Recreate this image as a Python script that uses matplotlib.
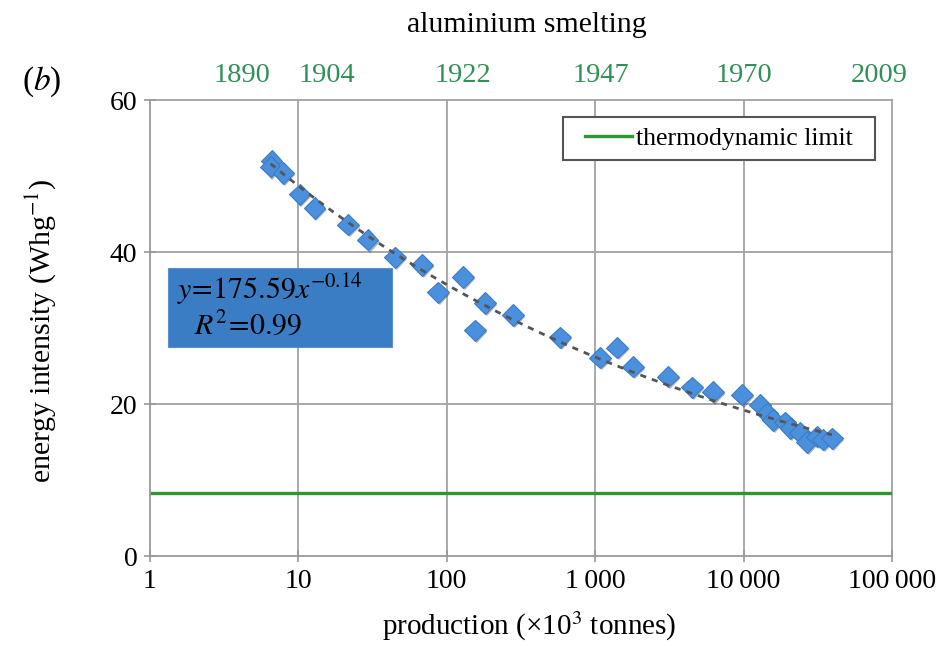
import numpy as np
import matplotlib
matplotlib.use("Agg")
import matplotlib.pyplot as plt
import matplotlib.patheffects as pe
from matplotlib.patches import Rectangle

plt.rcParams['font.family'] = ['Liberation Serif', 'DejaVu Serif']
plt.rcParams['mathtext.fontset'] = 'stix'

# production (x10^3 tonnes) and energy intensity (Wh/g)
production = [6.6, 6.5, 7.9, 10.2, 12.9, 21.6, 29.4, 44.8, 68.1, 87.2, 128.5,
              180.9, 279, 155, 579, 1077, 1403, 1798, 3096, 4490, 6220, 9750,
              12900, 14400, 15800, 19000, 20600, 24000, 26700, 31200, 34300, 39400]
intensity = [52.0, 51.2, 50.4, 47.6, 45.8, 43.6, 41.6, 39.3, 38.3, 34.7, 36.7,
             33.3, 31.7, 29.7, 28.8, 26.1, 27.4, 24.9, 23.6, 22.2, 21.6, 21.2,
             19.9, 18.8, 17.9, 17.6, 16.8, 16.2, 15.0, 15.7, 15.3, 15.5]

thermo_limit = 8.3

x_ticks = [1, 10, 100, 1000, 10000, 100000]
x_ticklabels = ['1', '10', '100', '1\u2009000', '10\u2009000', '100\u2009000']
y_ticks = [0, 20, 40, 60]

years = ['1890', '1904', '1922', '1947', '1970', '2009']
year_production = [4.2, 15.6, 128, 1090, 10000, 81600]

fig = plt.figure(figsize=(9.45, 6.46), dpi=100)
ax = fig.add_axes([0.1587, 0.1393, 0.7852, 0.7059])
ax.set_xscale('log')
ax.set_xlim(1, 100000)
ax.set_ylim(0, 60)

grid_c = '#a3a3a3'
for xv in x_ticks[1:]:
    ax.axvline(xv, color=grid_c, lw=1.3, zorder=0, clip_on=False)
for yv in y_ticks[1:]:
    ax.axhline(yv, color=grid_c, lw=1.3, zorder=0, clip_on=False)

for s in ['top', 'right']:
    ax.spines[s].set_visible(False)
for s in ['left', 'bottom']:
    ax.spines[s].set_color('#9a9a9a')
    ax.spines[s].set_linewidth(1.3)

ax.set_xticks(x_ticks)
ax.set_xticklabels(x_ticklabels)
ax.xaxis.set_minor_locator(matplotlib.ticker.NullLocator())
ax.set_yticks(y_ticks)
ax.tick_params(axis='both', direction='inout', length=8, width=1.2,
               color='#9a9a9a', labelsize=20, pad=5)

# thermodynamic limit
ax.axhline(thermo_limit, color='#2e9630', lw=2.4, zorder=2,
           label='thermodynamic limit')

# power-law trend fitted to the data
lx = np.log10(production)
b, a = np.polyfit(lx, np.log10(intensity), 1)
xs = np.logspace(np.log10(min(production)), np.log10(max(production)), 200)
ax.plot(xs, 10 ** a * xs ** b, color='#555555', lw=2.0, dashes=(2.2, 2.2),
        zorder=4)

ax.plot(production, intensity, linestyle='none', marker='D', markersize=10.8,
        markerfacecolor='#4b90dc', markeredgecolor='#3b7cc6',
        markeredgewidth=0.8, zorder=3,
        path_effects=[pe.SimplePatchShadow(offset=(1.2, -1.5), alpha=0.35),
                      pe.Normal()])

# fit annotation box
ax.add_patch(Rectangle((0.024, 0.458), 0.302, 0.174, transform=ax.transAxes,
                       facecolor='#3b7dc4', edgecolor='#5a8fcf', lw=0.8,
                       zorder=5))
ax.text(0.037, 0.585, r'$y\!=\!175.59x^{-0.14}$', transform=ax.transAxes,
        fontsize=21.5, va='center', ha='left', zorder=6)
ax.text(0.06, 0.505, r'$R^2\!=\!0.99$', transform=ax.transAxes,
        fontsize=21.5, va='center', ha='left', zorder=6)

# legend with a separately drawn frame
ax.add_patch(Rectangle((0.557, 0.868), 0.42, 0.095, transform=ax.transAxes,
                       facecolor='white', edgecolor='#555555', lw=1.5,
                       zorder=7))
leg = ax.legend(loc='center left', bbox_to_anchor=(0.586, 0.916),
                borderaxespad=0, borderpad=0, frameon=False,
                fontsize=18.5, handlelength=1.85, handletextpad=0.15)
leg.set_zorder(8)

# year labels along the top
top = ax.secondary_xaxis('top')
top.set_xticks(year_production)
top.set_xticklabels(years)
top.xaxis.set_minor_locator(matplotlib.ticker.NullLocator())
top.tick_params(length=0, labelsize=20.5, labelcolor='#2f9155', pad=9)
top.spines['top'].set_visible(False)

ax.set_xlabel(r'production (×10$^3$ tonnes)', fontsize=21)
ax.xaxis.set_label_coords(0.511, -0.117)
ax.set_ylabel(r'energy intensity (Whg$^{-1}$)', fontsize=21.5)
ax.yaxis.set_label_coords(-0.124, 0.493)
fig.text(0.558, 0.962, 'aluminium smelting', fontsize=21.5, ha='center',
         va='center')
fig.text(0.023, 0.873, r'($b$)', fontsize=24, ha='left', va='center')

fig.savefig('out.png', dpi=100)
